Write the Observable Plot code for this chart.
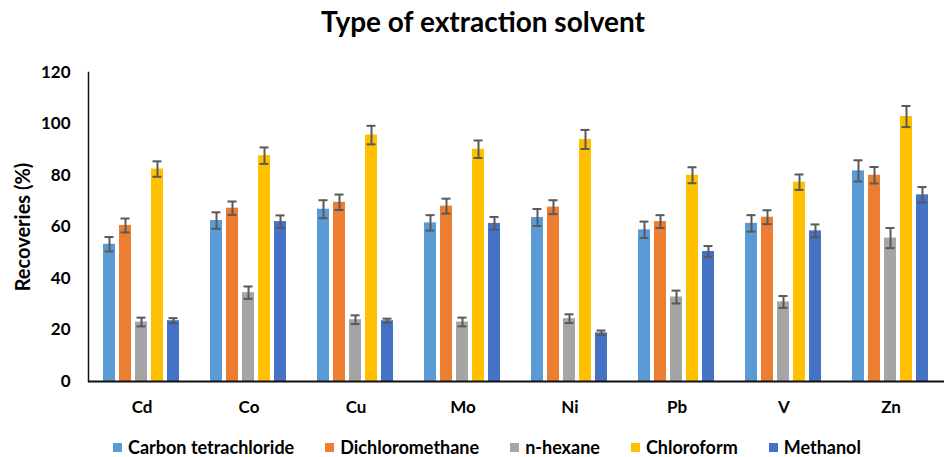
<!DOCTYPE html>
<html>
<head>
<meta charset="utf-8">
<script src="https://cdn.jsdelivr.net/npm/d3@7"></script>
<script src="https://cdn.jsdelivr.net/npm/@observablehq/plot@0.6"></script>
<style>
  body { margin: 0; background: #fff; font-family: Lato, "Open Sans", sans-serif; }
  #wrap { width: 949px; }
  #title { height: 51px; padding-top: 7px; padding-left: 17px; line-height: 1; font-size: 28px; font-weight: bold; text-align: center; color: #000; }
  #legend { height: 20px; padding-top: 9px; padding-left: 25px; display: flex; justify-content: center; align-items: center; gap: 31px; font-size: 18px; font-weight: bold; line-height: 20px; color: #000; }
  .item { display: flex; align-items: center; }
  .sw { width: 9px; height: 9px; margin-right: 6px; display: inline-block; }
</style>
</head>
<body>
<div id="wrap">
  <div id="title">Type of extraction solvent</div>
  <div id="chart"></div>
  <div id="legend"></div>
</div>
<script>
const metals = ["Cd", "Co", "Cu", "Mo", "Ni", "Pb", "V", "Zn"];
const solvents = ["Carbon tetrachloride", "Dichloromethane", "n-hexane", "Chloroform", "Methanol"];
const colors = ["#5B9BD5", "#ED7D31", "#A5A5A5", "#FFC000", "#4472C4"];
const yTicks = [0, 20, 40, 60, 80, 100, 120];
const yLabel = "Recoveries (%)";

const carbonTet      = [53.3, 62.5, 66.9, 61.6, 63.7, 58.9, 61.4, 81.8];
const carbonTetErr   = [2.8, 3.2, 3.5, 3.0, 3.3, 3.2, 3.2, 4.1];
const dichloro       = [60.6, 67.3, 69.6, 68.1, 67.7, 62.1, 63.8, 80.1];
const dichloroErr    = [2.7, 2.6, 3.0, 2.9, 2.7, 2.5, 2.7, 3.2];
const hexane         = [23.1, 34.5, 24.0, 23.1, 24.4, 32.8, 30.9, 55.7];
const hexaneErr      = [1.7, 2.4, 1.7, 1.7, 1.7, 2.5, 2.3, 3.9];
const chloroform     = [82.5, 87.7, 95.7, 90.2, 94.0, 80.1, 77.4, 102.9];
const chloroformErr  = [3.0, 3.2, 3.6, 3.4, 3.7, 3.1, 3.0, 4.1];
const methanol       = [23.6, 62.1, 23.6, 61.4, 18.9, 50.5, 58.5, 72.5];
const methanolErr    = [1.0, 2.4, 0.8, 2.5, 0.9, 2.1, 2.5, 3.0];

const seriesValues = [carbonTet, dichloro, hexane, chloroform, methanol];
const seriesErrors = [carbonTetErr, dichloroErr, hexaneErr, chloroformErr, methanolErr];

const data = [];
metals.forEach((m, i) => {
  solvents.forEach((s, j) => {
    const v = seriesValues[j][i], e = seriesErrors[j][i];
    data.push({metal: m, solvent: s, value: v, lo: v - e, hi: v + e});
  });
});

const chart = Plot.plot({
  width: 949,
  height: 370,
  marginTop: 14,
  marginBottom: 47,
  marginLeft: 87,
  marginRight: 4,
  style: {fontFamily: "Lato, 'Open Sans', sans-serif", fontWeight: "bold", color: "#000", background: "#fff", fontSize: "17px"},
  fx: {domain: metals, padding: 0, label: null},
  x: {domain: solvents, paddingInner: 0.22, paddingOuter: 0.82, axis: null},
  y: {domain: [0, 120], label: null},
  color: {domain: solvents, range: colors},
  marks: [
    Plot.barY(data, {fx: "metal", x: "solvent", y: "value", fill: "solvent"}),
    Plot.ruleX(data, {fx: "metal", x: "solvent", y1: "lo", y2: "hi", stroke: "#595959", strokeWidth: 2}),
    Plot.tickY(data, {fx: "metal", x: "solvent", y: "lo", stroke: "#595959", strokeWidth: 2, inset: 1.5}),
    Plot.tickY(data, {fx: "metal", x: "solvent", y: "hi", stroke: "#595959", strokeWidth: 2, inset: 1.5}),
    Plot.ruleY([0], {stroke: "#111", strokeWidth: 2}),
    Plot.frame({anchor: "left", facetAnchor: "left", stroke: "#111", strokeWidth: 1.5}),
    Plot.axisY({ticks: yTicks, tickSize: 0, tickPadding: 18, fontSize: 17, fontWeight: "bold", label: null}),
    Plot.text([yLabel], {frameAnchor: "left", facetAnchor: "left", textAnchor: "middle", rotate: -90, dx: -65, fontSize: 20, fontWeight: "bold", fill: "#000", text: d => d}),
    Plot.axisFx({anchor: "bottom", tickSize: 0, tickPadding: 19, fontSize: 17, fontWeight: "bold", label: null})
  ]
});
document.getElementById("chart").appendChild(chart);

const legend = document.getElementById("legend");
solvents.forEach((s, j) => {
  const item = document.createElement("div");
  item.className = "item";
  const sw = document.createElement("span");
  sw.className = "sw";
  sw.style.background = colors[j];
  item.appendChild(sw);
  item.appendChild(document.createTextNode(s));
  legend.appendChild(item);
});
</script>
</body>
</html>
